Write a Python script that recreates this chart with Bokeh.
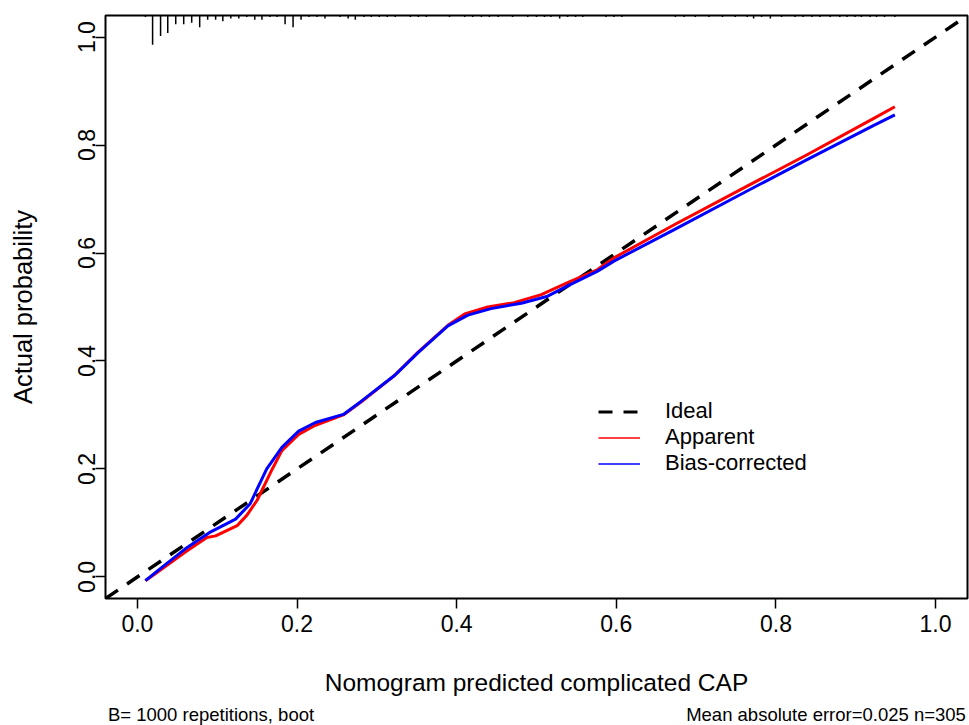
from bokeh.plotting import figure
from bokeh.layouts import column
from bokeh.models import Range1d, FixedTicker, PrintfTickFormatter, Legend, LegendItem
from bokeh.core.properties import value
from bokeh.embed import file_html
from bokeh.resources import INLINE

# Calibration curves (predicted probability vs. observed probability)
apparent_x = [0.010, 0.031, 0.060, 0.087, 0.098, 0.125, 0.137, 0.150, 0.169, 0.181,
              0.202, 0.223, 0.258, 0.281, 0.322, 0.352, 0.389, 0.410, 0.439, 0.472,
              0.506, 0.539, 0.576, 0.597, 0.672, 0.755, 0.839, 0.922, 0.949]
apparent_y = [-0.007, 0.015, 0.046, 0.073, 0.076, 0.095, 0.114, 0.142, 0.200, 0.234,
              0.264, 0.281, 0.300, 0.325, 0.373, 0.417, 0.466, 0.487, 0.500, 0.508,
              0.523, 0.545, 0.569, 0.591, 0.652, 0.717, 0.782, 0.849, 0.871]

bias_x = [0.010, 0.031, 0.060, 0.090, 0.123, 0.141, 0.162, 0.181, 0.202, 0.223,
          0.258, 0.281, 0.322, 0.352, 0.389, 0.414, 0.443, 0.481, 0.514, 0.539,
          0.576, 0.597, 0.672, 0.755, 0.839, 0.922, 0.949]
bias_y = [-0.007, 0.018, 0.052, 0.082, 0.107, 0.135, 0.200, 0.240, 0.270, 0.286,
          0.301, 0.326, 0.373, 0.416, 0.465, 0.485, 0.497, 0.507, 0.520, 0.539,
          0.566, 0.585, 0.643, 0.708, 0.773, 0.836, 0.856]

# Distribution of predicted probabilities (rug along the top)
rug_x = [0.010, 0.019, 0.029, 0.038, 0.048, 0.058, 0.068, 0.078, 0.088, 0.098,
         0.107, 0.117, 0.127, 0.137, 0.147, 0.156, 0.166, 0.175, 0.185, 0.195,
         0.205, 0.215, 0.225, 0.235, 0.254, 0.264, 0.273, 0.284, 0.293, 0.303,
         0.313, 0.323, 0.342, 0.352, 0.362, 0.391, 0.410, 0.420, 0.431, 0.441,
         0.452, 0.470, 0.489, 0.500, 0.510, 0.518, 0.529, 0.539, 0.549, 0.558,
         0.587, 0.597, 0.607, 0.674, 0.685, 0.699, 0.716, 0.733, 0.749, 0.764,
         0.772, 0.782, 0.793, 0.807, 0.824, 0.834, 0.845, 0.855, 0.868, 0.880,
         0.889, 0.899, 0.907, 0.918, 0.926, 0.936, 0.949]
rug_n = [1, 20, 14, 12, 6, 6, 5, 8, 3, 3,
         4, 2, 2, 1, 3, 3, 1, 1, 6, 8,
         3, 1, 1, 2, 1, 2, 3, 1, 1, 1,
         1, 1, 1, 1, 1, 1, 1, 1, 1, 1,
         1, 1, 1, 1, 1, 1, 2, 1, 1, 1,
         1, 1, 1, 1, 1, 1, 1, 1, 1, 1,
         2, 1, 2, 1, 1, 1, 1, 1, 1, 1,
         1, 1, 1, 1, 1, 1, 1]

axis_ticks = [0.0, 0.2, 0.4, 0.6, 0.8, 1.0]
x_title = "Nomogram predicted complicated CAP"
y_title = "Actual probability"
legend_labels = ["Ideal", "Apparent", "Bias-corrected"]
note_left = "B= 1000 repetitions, boot"
note_right = "Mean absolute error=0.025 n=305"

FONT = "Liberation Sans"
LO, HI = -0.04, 1.04
NAN = float("nan")

p = figure(width=969, height=703, output_backend="svg", toolbar_location=None,
           x_range=Range1d(LO, HI), y_range=Range1d(LO, HI),
           min_border_left=105, min_border_right=2, min_border_top=15,
           min_border_bottom=105)
p.grid.visible = False
p.background_fill_color = "white"
p.border_fill_color = "white"
p.outline_line_color = "black"
p.outline_line_width = 2

for ax in (p.xaxis[0], p.yaxis[0]):
    ax.ticker = FixedTicker(ticks=axis_ticks)
    ax.formatter = PrintfTickFormatter(format="%.1f")
    ax.axis_line_color = None
    ax.major_tick_line_color = "black"
    ax.major_tick_line_width = 1.5
    ax.major_tick_out = 10
    ax.major_tick_in = 0
    ax.minor_tick_line_color = None
    ax.major_label_text_font = FONT
    ax.major_label_text_font_size = "23px"
    ax.major_label_text_color = "black"
    ax.axis_label_text_font = FONT
    ax.axis_label_text_font_style = "normal"
    ax.axis_label_text_color = "black"

p.xaxis.axis_label = x_title
p.xaxis.axis_label_text_font_size = "24.5px"
p.xaxis.major_label_standoff = 6
p.xaxis.axis_label_standoff = 34
p.yaxis.axis_label = y_title
p.yaxis.axis_label_text_font_size = "25.5px"
p.yaxis.major_label_orientation = "vertical"
p.yaxis.major_label_standoff = 0
p.yaxis.axis_label_standoff = 39

# rug of predictions hanging from the top border
max_n = max(rug_n)
rug_len = [n / max_n * 0.054 for n in rug_n]
p.segment(x0=rug_x, y0=[HI] * len(rug_x), x1=rug_x,
          y1=[HI - h for h in rug_len], line_color="black", line_width=1.5)

# ideal diagonal
p.line([LO, HI], [LO, HI], line_color="black", line_width=3.5, line_dash="15 11")

p.line(apparent_x, apparent_y, line_color="#ff0000", line_width=3, line_join="round")
p.line(bias_x, bias_y, line_color="#0000ff", line_width=3, line_join="round")

# legend keys: renderers styled like the legend entries, with nothing to plot
r_ideal = p.line([NAN], [NAN], line_color="black", line_width=3, line_dash="14 11")
r_app = p.line([NAN], [NAN], line_color="#ff0000", line_width=1.7)
r_bias = p.line([NAN], [NAN], line_color="#0000ff", line_width=1.7)
legend = Legend(items=[LegendItem(label=legend_labels[0], renderers=[r_ideal]),
                       LegendItem(label=legend_labels[1], renderers=[r_app]),
                       LegendItem(label=legend_labels[2], renderers=[r_bias])],
                location=(493, 122), orientation="vertical",
                glyph_width=42, glyph_height=25, label_height=25,
                label_standoff=25, spacing=0, padding=0, margin=0,
                label_text_font=FONT, label_text_font_size="22px",
                label_text_color="black",
                background_fill_alpha=0, border_line_color=None)
p.add_layout(legend, "center")

# strip underneath for the bootstrap / error notes; its frame lines up with
# the main plot's frame, so it shares the same x scale
notes = figure(width=969, height=22, output_backend="svg", toolbar_location=None,
               x_range=Range1d(LO, HI), y_range=Range1d(0, 1),
               x_axis_location=None, y_axis_location=None, min_border=0)
notes.grid.visible = False
notes.outline_line_color = None
notes.border_fill_color = "white"
notes.text(x=[LO + 0.003], y=[1], text=[note_left], text_font=value(FONT),
           text_font_size="18.5px", text_color="black",
           text_align="left", text_baseline="top")
notes.text(x=[HI - 0.002], y=[1], text=[note_right], text_font=value(FONT),
           text_font_size="18.5px", text_color="black",
           text_align="right", text_baseline="top")

layout = column(p, notes, spacing=0)
open("out.html", "w").write(file_html(layout, INLINE))
